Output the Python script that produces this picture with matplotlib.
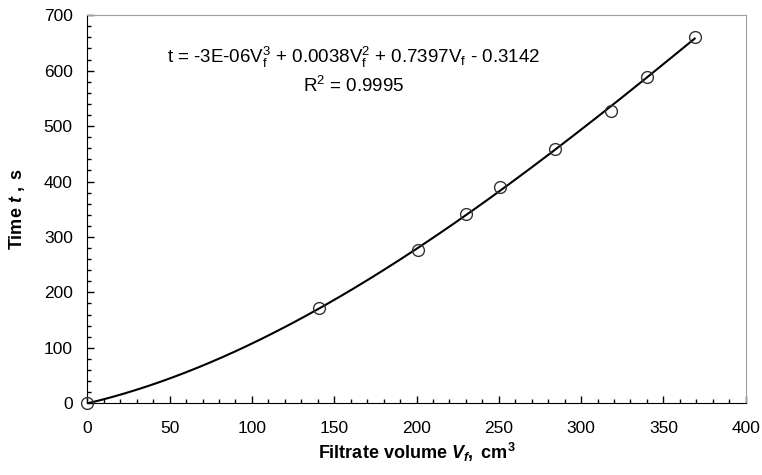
import numpy as np
import matplotlib
matplotlib.use('Agg')
import matplotlib.pyplot as plt
from matplotlib.ticker import MultipleLocator

plt.rcParams['font.family'] = 'Liberation Sans'
plt.rcParams['mathtext.fontset'] = 'custom'
plt.rcParams['mathtext.rm'] = 'Liberation Sans'
plt.rcParams['mathtext.it'] = 'Liberation Sans:italic'
plt.rcParams['mathtext.bf'] = 'Liberation Sans:bold'
plt.rcParams['mathtext.bfit'] = 'Liberation Sans:bold:italic'

# ====== Data ======
vol = [0, 141, 201, 230, 251, 284, 318, 340, 369]
time = [0, 171, 276, 341, 391, 458, 527, 589, 660]

# polynomial trendline (order 3) like Excel
coef = np.polyfit(vol, time, 3)
v_fit = np.linspace(0, max(vol), 200)
t_fit = np.polyval(coef, v_fit)

fig = plt.figure(figsize=(7.62, 4.75), dpi=100)
ax = fig.add_axes([0.1146, 0.151, 0.864, 0.817])

ax.plot(v_fit, t_fit, color='black', lw=1.5, zorder=2)
ax.plot(vol, time, 'o', ms=8.5, mfc='none', mec='#333333', mew=1.0,
        clip_on=False, zorder=3)

ax.set_xlim(0, 400)
ax.set_ylim(0, 700)
ax.xaxis.set_major_locator(MultipleLocator(50))
ax.xaxis.set_minor_locator(MultipleLocator(10))
ax.yaxis.set_major_locator(MultipleLocator(100))
ax.yaxis.set_minor_locator(MultipleLocator(20))
ax.tick_params(which='both', direction='in', top=False, right=False,
               labelsize=12.5, width=1)
ax.tick_params(which='major', length=5)
ax.tick_params(which='minor', length=3)
ax.tick_params(axis='x', which='major', pad=13)
ax.tick_params(axis='y', which='major', pad=10.5)

for s in ['top', 'right']:
    ax.spines[s].set_color('#a0a0a0')
for s in ['left', 'bottom']:
    ax.spines[s].set_color('black')

ax.text(162, 624,
        r't = -3E-06$\mathrm{V}_\mathrm{f}^3$ + 0.0038$\mathrm{V}_\mathrm{f}^2$'
        r' + 0.7397$\mathrm{V}_\mathrm{f}$ - 0.3142',
        ha='center', va='center', fontsize=13.5)
ax.text(162, 572, r'$\mathrm{R}^2$ = 0.9995', ha='center', va='center', fontsize=13.5)

ax.set_xlabel(r'$\mathbf{Filtrate\ volume\ }\mathbfit{V}_{\mathbfit{f}}\mathbf{,\ cm}^{\mathbf{3}}$',
              fontsize=13, labelpad=3)
ax.set_ylabel(r'$\mathbf{Time\ }\mathbfit{t}\mathbf{\ ,\ s}$', fontsize=13, labelpad=12)

fig.savefig('out.png', dpi=100)
